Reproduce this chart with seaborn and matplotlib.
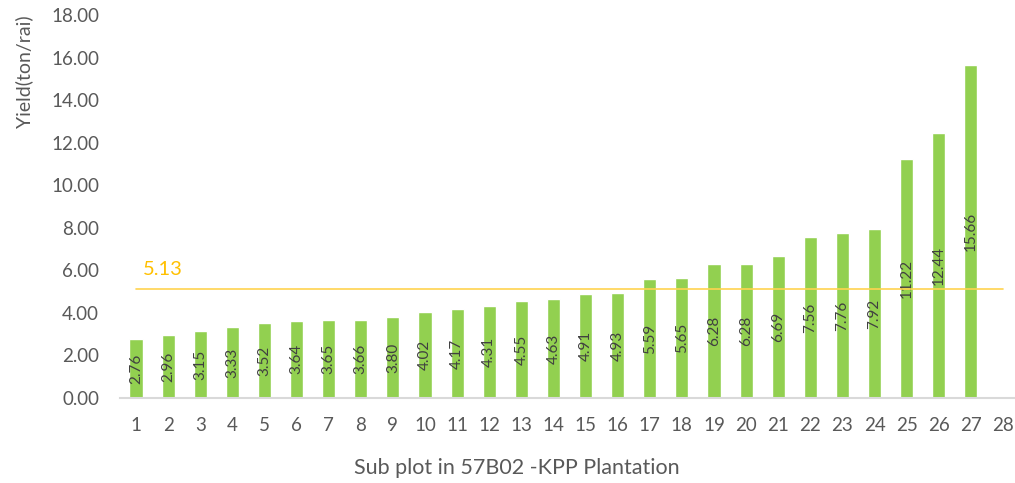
import matplotlib
matplotlib.use("Agg")
import matplotlib.pyplot as plt
import seaborn as sns
import pandas as pd

# Sub plots 1..28 (28 has no yield value)
subplots = [str(i) for i in range(1, 29)]
yields = [2.76, 2.96, 3.15, 3.33, 3.52, 3.64, 3.65, 3.66, 3.80, 4.02,
          4.17, 4.31, 4.55, 4.63, 4.91, 4.93, 5.59, 5.65, 6.28, 6.28,
          6.69, 7.56, 7.76, 7.92, 11.22, 12.44, 15.66]
avg_yield = 5.13

df = pd.DataFrame({"subplot": subplots[:len(yields)], "yield": yields})

sns.set_style("white")
plt.rcParams["font.family"] = ["Lato", "DejaVu Sans"]

fig = plt.figure(figsize=(10.15, 4.83), dpi=100)
ax = fig.add_axes([120 / 1015, 85 / 483, 899 / 1015, 383 / 483])

sns.barplot(data=df, x="subplot", y="yield", order=subplots, color="#92D050",
            saturation=1, width=0.41, ax=ax)
ax.bar_label(ax.containers[0], fmt="%.2f", label_type="center", rotation=90,
             color="#404040", fontsize=11)

# average line across all categories
pos = list(range(len(subplots)))
ax.plot(pos, [avg_yield] * len(pos), color="#FFD34F", lw=1.2, zorder=3)
ax.annotate(f"{avg_yield:.2f}", (pos[0], avg_yield), xytext=(5, 8),
            textcoords="offset points", color="#FFC000", fontsize=14.5, ha="left", va="bottom")

ax.set_ylim(0, 18)
ax.set_yticks(range(0, 19, 2))
ax.set_yticklabels([f"{v:.2f}" for v in range(0, 19, 2)])
ax.set_xlim(-0.5, len(subplots) - 0.5)

for s in ["top", "right", "left"]:
    ax.spines[s].set_visible(False)
ax.spines["bottom"].set_color("#D9D9D9")
ax.spines["bottom"].set_linewidth(1.5)
ax.tick_params(axis="both", length=0, labelsize=13.5, labelcolor="#595959")
ax.tick_params(axis="y", pad=15)
ax.tick_params(axis="x", pad=14)

ax.set_ylabel("Yield(ton/rai)", fontsize=14, color="#595959")
ax.set_xlabel("Sub plot in 57B02 -KPP Plantation", fontsize=15.5, color="#595959")
ax.yaxis.set_label_coords(-0.097, 0.851)
ax.xaxis.set_label_coords(0.4416, -0.157)

fig.savefig("out.png", dpi=100)
